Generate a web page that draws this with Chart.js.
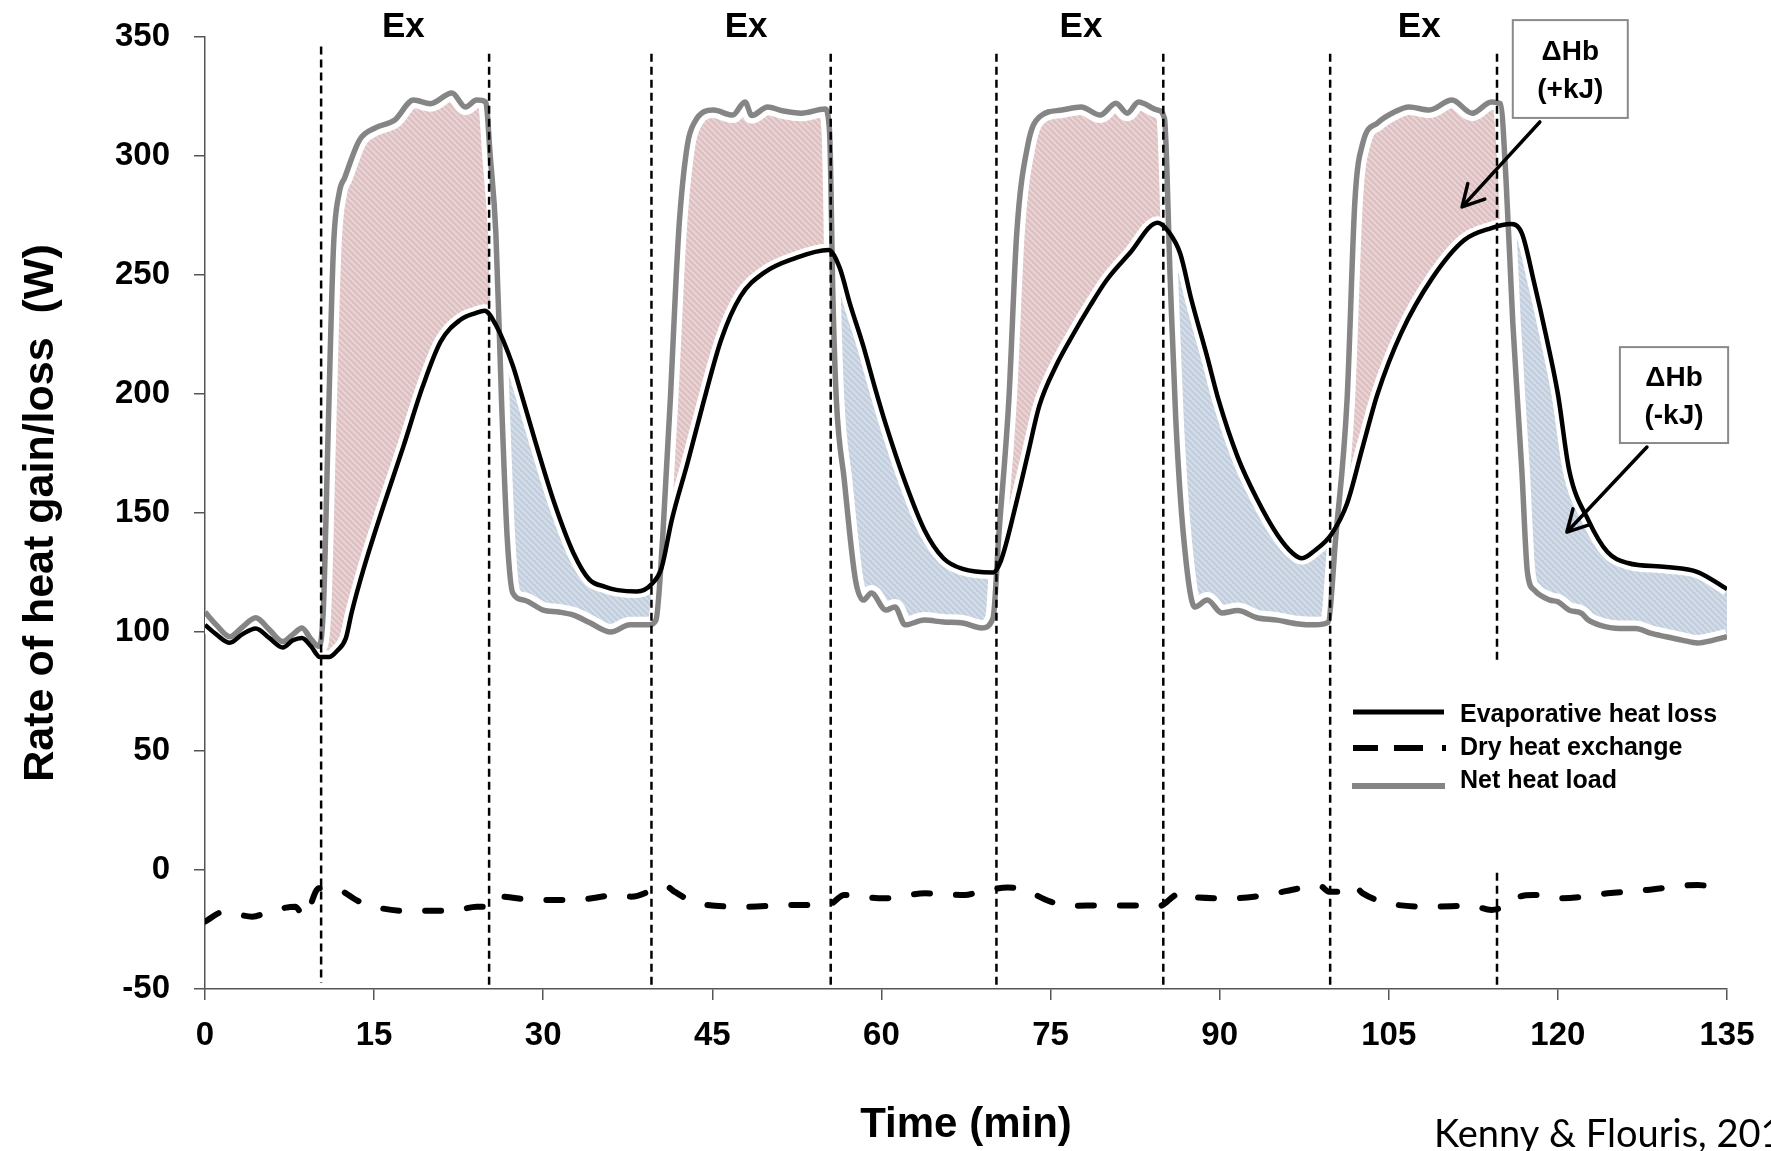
<!DOCTYPE html>
<html lang="en">
<head>
<meta charset="UTF-8">
<title>Rate of heat gain/loss</title>
<script src="https://cdn.jsdelivr.net/npm/chart.js"></script>
<style>
  * { margin: 0; padding: 0; }
  body { background: #fff; width: 1771px; height: 1151px; overflow: hidden; }
  canvas { display: block; }
</style>
</head>
<body>
<canvas id="heatChart" width="1771" height="1151"></canvas>
<script>
// [time (min), W]
const evapLoss = [
  [0, 103], [1, 99], [2.2, 95.5], [3.3, 99], [4.5, 101.5], [5.7, 97.5], [6.9, 93.5], [7.8, 96.5],
  [8.6, 97.5], [9.4, 94], [10.2, 89.5], [11, 89.5], [11.7, 92], [12.5, 97.5], [13, 108], [14.1, 127],
  [15.8, 152.5], [17.6, 178], [19.3, 203], [20.9, 222], [22.6, 231], [24, 234], [24.8, 235], [25.8, 229],
  [27.3, 212], [28, 201], [29.3, 180], [31, 154], [32.7, 133], [34.1, 122], [35.5, 119], [36.6, 117.6],
  [38.3, 117], [39.6, 120], [40.5, 127], [41.4, 147], [42.8, 171], [44.1, 194.5], [45.8, 223], [47.5, 241],
  [49.6, 251], [52.3, 257], [55.3, 260.5], [56.3, 253], [57.2, 238], [58.4, 220], [59.4, 203], [60.4, 187],
  [62.1, 163], [63.8, 143], [65.5, 131], [67.2, 126.5], [69.9, 125], [70.6, 130], [72, 155], [73, 175],
  [74, 195], [75.5, 212], [77, 225], [78.5, 237], [80, 248], [82, 259], [84.5, 272], [85.5, 268],
  [86.5, 259], [87.5, 239.5], [88.9, 215.5], [89.9, 197.5], [91.6, 173.5], [93.3, 156], [95.1, 141], [96.5, 133],
  [97.3, 131], [98.5, 134.5], [99.9, 141], [101.3, 154], [102.7, 178], [104, 200], [106.1, 225.6], [108.9, 249],
  [111.7, 264.7], [114.1, 269.7], [115.8, 271.4], [116.8, 267.6], [117.9, 246.6], [118.9, 225.6], [120, 200], [121, 168],
  [122.7, 147], [124.4, 133.6], [126.2, 129], [129.6, 127.3], [132.4, 125.2], [135, 118]
];

const dryHeat = [
  [0, -21.7], [1.7, -17.5], [4.2, -19.6], [5.7, -17.5], [8, -15.4], [8.8, -19.6], [10.1, -7.7], [11.35, -7.7],
  [13.9, -13.7], [17.5, -17.1], [22, -17.1], [24.1, -15.4], [25.1, -15.4], [26.1, -11.2], [29.2, -12.6], [32.7, -12.6],
  [36.8, -10.5], [37.8, -11.2], [40.9, -6.8], [41.6, -9], [43.9, -14.3], [48, -15.4], [52.1, -14.7], [55.4, -14.3],
  [56.7, -10.5], [60.2, -11.9], [63.9, -9.8], [67.4, -10.5], [68.7, -9.1], [71.2, -7.4], [72.2, -7.7], [75, -13.3],
  [76.5, -15], [80, -14.9], [83.6, -14.9], [84.5, -15.4], [86.1, -10.5], [87.1, -9.1], [88.1, -11.6], [91.1, -11.9],
  [94.1, -10.5], [97.6, -7.3], [98.9, -6.7], [99.7, -9.1], [100.9, -9.1], [101.9, -6.7], [102.7, -9.8], [104.7, -13.7],
  [108.8, -15.4], [112.3, -15], [114.1, -16.8], [115.8, -14], [116.6, -11.2], [117.8, -10.5], [120.4, -11.9], [124.4, -9.8],
  [127.9, -8.4], [132.4, -6.3], [133.4, -6.7]
];

const netLoad = [
  [0, 108.4], [1, 103], [2.2, 98], [3.3, 102], [4.5, 106], [5.7, 101], [6.9, 96], [7.8, 99],
  [8.6, 101.7], [9.4, 97], [10.1, 94], [10.5, 110], [10.9, 180], [11.4, 262], [11.9, 284.5], [12.4, 291],
  [13.7, 306.7], [15.1, 311.8], [16.8, 315], [18.5, 323.5], [20, 322], [21.9, 326.5], [23.1, 320.6], [24.1, 323.5],
  [24.9, 322.7], [25.3, 300], [25.8, 267.6], [26.3, 197.5], [26.8, 140], [27.3, 116.4], [28.3, 113.4], [30, 109.2],
  [31.4, 108.4], [32.7, 107.1], [34.1, 104], [36, 100], [37.7, 103], [39.4, 103], [40, 105], [40.6, 140],
  [41.3, 200], [41.8, 250], [42.1, 274], [42.8, 305], [43.4, 314], [45.1, 319.3], [46.8, 317.2], [47.9, 322.7],
  [48.5, 317], [49.9, 320.6], [51.2, 319], [52.9, 318], [55, 319.7], [55.4, 310], [55.7, 239.5], [56, 197.5],
  [56.7, 164], [57.7, 121.8], [58.4, 113.4], [59.1, 116.4], [60.4, 109.2], [61.2, 110.5], [62.1, 103], [63.8, 105],
  [65.5, 104.2], [67.2, 103.8], [68.9, 101.7], [69.9, 105.9], [70.4, 140], [71.3, 197.5], [72, 267.6], [73, 305],
  [74, 316.4], [76, 319.3], [77.7, 320.6], [79.4, 317.2], [80.8, 322.2], [81.8, 318], [82.8, 322.7], [84.5, 319.3],
  [85.1, 316], [85.6, 250], [86.1, 190], [86.8, 140], [87.8, 110.5], [88.9, 113.4], [90.2, 108], [91.6, 109],
  [93.3, 106], [95.1, 105], [96.8, 103.5], [98.5, 103], [99.6, 104], [100.3, 140], [101.3, 197.5], [102, 281.5],
  [102.7, 305.5], [104, 313.9], [105.5, 318.5], [106.8, 320.6], [108.6, 319.3], [110.6, 323.5], [112.4, 318], [114.1, 322.7],
  [114.9, 322], [115.4, 290], [116, 230], [116.8, 168], [117.3, 125], [117.9, 117.6], [119.3, 113.4], [120, 112.7],
  [121, 109.2], [122.1, 107.8], [122.7, 105], [123.7, 102.9], [125.5, 101.5], [126.9, 101.5], [128.2, 99.5], [129.6, 98],
  [131, 96.6], [132.4, 95.4], [133.8, 96.6], [135, 98]
];

// start/end of each exercise bout (dashed verticals) and the "Ex" label positions
const boutEdges = [10.3, 25.2, 39.6, 55.5, 70.2, 85.0, 99.8, 114.6];
const exLabelTimes = [17.6, 48, 77.7, 107.7];

const toPoints = pairs => pairs.map(([x, y]) => ({ x, y }));

function hatch(base, stripe) {
  const c = document.createElement('canvas');
  c.width = 6; c.height = 6;
  const g = c.getContext('2d');
  g.fillStyle = base;
  g.fillRect(0, 0, 6, 6);
  g.strokeStyle = stripe;
  g.lineWidth = 1.4;
  g.beginPath();
  g.moveTo(-1, -1); g.lineTo(7, 7);
  g.moveTo(-4, 2); g.lineTo(4, 10);
  g.moveTo(2, -4); g.lineTo(10, 4);
  g.stroke();
  return g.createPattern(c, 'repeat');
}

const pinkHatch = hatch('#dec1c3', '#edd9da');
const blueHatch = hatch('#c3cfde', '#d9e2eb');

const BOLD = '"Liberation Sans", Arial, sans-serif';

const overlay = {
  id: 'overlay',
  afterDatasetsDraw(chart) {
    const { ctx, scales: { x, y } } = chart;
    ctx.save();
    ctx.strokeStyle = '#000';
    ctx.lineWidth = 2.5;
    ctx.setLineDash([8, 5]);
    boutEdges.forEach((t, i) => {
      const px = x.getPixelForValue(t);
      ctx.beginPath();
      ctx.moveTo(px, y.getPixelForValue(i === 0 ? 346 : 343));
      ctx.lineTo(px, y.getPixelForValue(i === 0 ? -47.5 : -50));
      ctx.stroke();
    });
    ctx.restore();
  },
  afterDraw(chart) {
    const { ctx, scales: { x, y } } = chart;
    ctx.save();

    // Ex labels
    ctx.fillStyle = '#000';
    ctx.font = 'bold 35px ' + BOLD;
    ctx.textAlign = 'center';
    ctx.textBaseline = 'middle';
    exLabelTimes.forEach(t => ctx.fillText('Ex', x.getPixelForValue(t), y.getPixelForValue(354)));

    // ΔHb boxes
    const boxes = [
      { x0: 116.0, x1: 126.2, y0: 357.1, y1: 316.0, sign: '(+kJ)' },
      { x0: 125.5, x1: 135.1, y0: 219.7, y1: 179.4, sign: '(-kJ)' }
    ];
    ctx.font = 'bold 28px ' + BOLD;
    boxes.forEach(b => {
      const l = x.getPixelForValue(b.x0), r = x.getPixelForValue(b.x1);
      const t = y.getPixelForValue(b.y0), btm = y.getPixelForValue(b.y1);
      ctx.fillStyle = '#fff';
      ctx.fillRect(l, t, r - l, btm - t);
      ctx.strokeStyle = '#8a8a8a';
      ctx.lineWidth = 2;
      ctx.strokeRect(l, t, r - l, btm - t);
      const cx = (l + r) / 2, cy = (t + btm) / 2;
      ctx.fillStyle = '#000';
      ctx.fillText('ΔHb', cx, cy - 17);
      ctx.fillText(b.sign, cx, cy + 21);
    });

    // arrows
    const arrows = [
      [118.4, 314.3, 111.5, 278.6],
      [127.9, 177.7, 120.8, 142.0]
    ];
    ctx.strokeStyle = '#000';
    ctx.lineWidth = 3.5;
    ctx.lineCap = 'round';
    arrows.forEach(([t0, v0, t1, v1]) => {
      const ax = x.getPixelForValue(t0), ay = y.getPixelForValue(v0);
      const bx = x.getPixelForValue(t1), by = y.getPixelForValue(v1);
      const ang = Math.atan2(by - ay, bx - ax);
      ctx.beginPath();
      ctx.moveTo(ax, ay);
      ctx.lineTo(bx, by);
      [0.5, -0.5].forEach(d => {
        ctx.moveTo(bx, by);
        ctx.lineTo(bx - 24 * Math.cos(ang + d), by - 24 * Math.sin(ang + d));
      });
      ctx.stroke();
    });

    // legend
    ctx.fillStyle = '#fff';
    ctx.fillRect(1345, 664, 382, 204);
    ctx.lineCap = 'butt';
    ctx.strokeStyle = '#000';
    ctx.lineWidth = 5;
    ctx.beginPath(); ctx.moveTo(1353, 712); ctx.lineTo(1444, 712); ctx.stroke();
    ctx.lineWidth = 6;
    ctx.beginPath();
    ctx.moveTo(1353, 748); ctx.lineTo(1378, 748);
    ctx.moveTo(1394, 748); ctx.lineTo(1423, 748);
    ctx.moveTo(1442, 748); ctx.lineTo(1446, 748);
    ctx.stroke();
    ctx.strokeStyle = '#858585';
    ctx.beginPath(); ctx.moveTo(1352, 786); ctx.lineTo(1445, 786); ctx.stroke();

    ctx.fillStyle = '#000';
    ctx.font = 'bold 25px ' + BOLD;
    ctx.textAlign = 'left';
    ctx.fillText('Evaporative heat loss', 1460, 715);
    ctx.fillText('Dry heat exchange', 1460, 748);
    ctx.fillText('Net heat load', 1460, 781);

    // source
    ctx.font = '38px Lato, "Open Sans", sans-serif';
    ctx.textBaseline = 'alphabetic';
    ctx.fillText('Kenny & Flouris, 2014', 1434, 1147);
    ctx.restore();
  }
};

new Chart(document.getElementById('heatChart').getContext('2d'), {
  type: 'line',
  data: {
    datasets: [
      {
        label: 'Dry heat exchange',
        data: toPoints(dryHeat),
        borderColor: '#000',
        borderWidth: 6,
        borderDash: [16, 26],
        borderCapStyle: 'round',
        fill: false
      },
      {
        label: 'Evaporative heat loss',
        data: toPoints(evapLoss),
        borderColor: '#000',
        borderWidth: 4.5,
        fill: false
      },
      {
        label: 'Net heat load',
        data: toPoints(netLoad),
        borderColor: '#858585',
        borderWidth: 5.5,
        fill: false
      },
      {
        label: 'evap halo',
        data: toPoints(evapLoss),
        borderColor: '#fff',
        borderWidth: 13,
        fill: false
      },
      {
        label: 'net halo',
        data: toPoints(netLoad),
        borderColor: '#fff',
        borderWidth: 16,
        fill: { target: 3, above: pinkHatch, below: blueHatch }
      }
    ]
  },
  options: {
    responsive: false,
    devicePixelRatio: 1,
    animation: false,
    events: [],
    layout: { padding: { left: 0, right: 44, top: 37, bottom: 0 } },
    elements: {
      point: { radius: 0 },
      line: { cubicInterpolationMode: 'monotone', borderJoinStyle: 'round' }
    },
    plugins: {
      legend: { display: false },
      tooltip: { enabled: false }
    },
    scales: {
      x: {
        type: 'linear',
        min: 0,
        max: 135,
        afterFit: s => { s.height = 162; s.paddingLeft = 0; s.paddingRight = 0; },
        ticks: { stepSize: 15, color: '#000', padding: 16, font: { family: BOLD, size: 33, weight: 'bold' } },
        grid: { drawOnChartArea: false, tickLength: 11, color: '#555', lineWidth: 1.5 },
        border: { color: '#555', width: 1.5 },
        title: { display: true, text: 'Time (min)', color: '#000', padding: 0, font: { family: BOLD, size: 42, weight: 'bold' } }
      },
      y: {
        min: -50,
        max: 350,
        afterFit: s => { s.width = 205; s.paddingTop = 0; s.paddingBottom = 0; },
        ticks: { stepSize: 50, color: '#000', padding: 24, font: { family: BOLD, size: 33, weight: 'bold' } },
        grid: { drawOnChartArea: false, tickLength: 11, color: '#555', lineWidth: 1.5 },
        border: { color: '#555', width: 1.5 },
        title: { display: true, text: 'Rate of heat gain/loss  (W)', color: '#000', padding: { top: 15 }, font: { family: BOLD, size: 43, weight: 'bold' } }
      }
    }
  },
  plugins: [overlay]
});
</script>
</body>
</html>
